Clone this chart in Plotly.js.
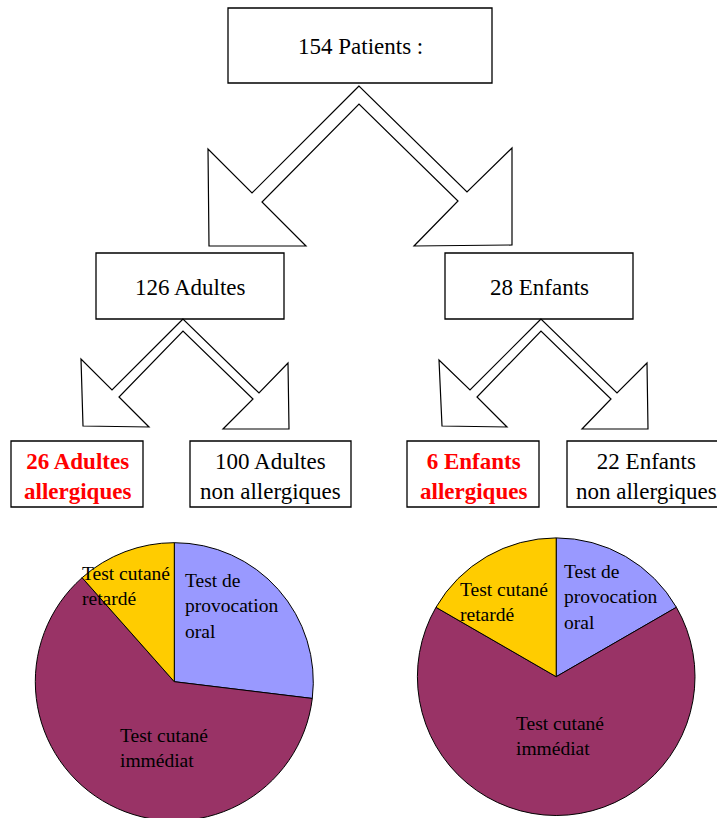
<!DOCTYPE html>
<html>
<head>
<meta charset="utf-8">
<script src="https://cdn.plot.ly/plotly-3.0.1.min.js"></script>
<style>
  html, body { margin: 0; padding: 0; background: #ffffff; overflow: hidden; }
  #chart { width: 717px; height: 830px; }
</style>
</head>
<body>
<div id="chart"></div>
<script>
// ---------- data ----------
const totalPatients = 154;
const groupNames = ["Adultes", "Enfants"];
const groupCounts = [126, 28];
const allergicCounts = [26, 6];
const nonAllergicCounts = [100, 22];

const testCategories = ["Test de provocation oral", "Test cutané immédiat", "Test cutané retardé"];
const testLabelLines = ["Test de<br>provocation<br>oral", "Test cutané<br>immédiat", "Test cutané<br>retardé"];
const adultTestValues = [7, 16, 3];
const childTestValues = [1, 4, 1];
const sliceColors = ["#9999FF", "#993366", "#FFCC00"];

// ---------- geometry (pixels) ----------
const W = 717, H = 830;
const FONT = "Liberation Serif";

function dom(cx, cy, r) {
  return { x: [(cx - r) / W, (cx + r) / W], y: [(H - cy - r) / H, (H - cy + r) / H] };
}
function poly(pts) {
  return "M " + pts.map(p => p[0] + "," + p[1]).join(" L ") + " Z";
}

const shapes = [];
const annotations = [];

function box(x0, y0, x1, y1) {
  shapes.push({ type: "rect", xref: "x", yref: "y", x0: x0, y0: y0, x1: x1, y1: y1,
    line: { color: "#000000", width: 1.3 }, fillcolor: "rgba(255,255,255,0)" });
}
function label(x, y, text, opts) {
  opts = opts || {};
  annotations.push({ xref: "x", yref: "y", x: x, y: y, text: text, showarrow: false,
    xanchor: opts.xanchor || "center", yanchor: "middle", align: opts.align || "center",
    font: { family: FONT, size: opts.size || 23, color: opts.color || "#000000" } });
}

// top box
box(228, 8, 492, 83);
label(360, 46, totalPatients + " Patients :");
// second level
box(96, 253, 284, 319);
label(190, 287, groupCounts[0] + " " + groupNames[0]);
box(445, 253, 633, 319);
label(539, 287, groupCounts[1] + " " + groupNames[1]);
// third level
box(11, 441, 143, 507);
label(77, 476, "<b>" + allergicCounts[0] + " " + groupNames[0] + "<br>allergiques</b>", { color: "#FF0000" });
box(190, 441, 351, 507);
label(270.5, 476, nonAllergicCounts[0] + " " + groupNames[0] + "<br>non allergiques");
box(407, 441, 539, 507);
label(473, 476, "<b>" + allergicCounts[1] + " " + groupNames[1] + "<br>allergiques</b>", { color: "#FF0000" });
box(567, 441, 725, 507);
label(646, 476, nonAllergicCounts[1] + " " + groupNames[1] + "<br>non allergiques");

// split arrows
const bigArrow = [[359, 86], [252, 193], [208, 149], [209, 246], [306, 246], [262, 202], [359, 104],
  [458, 201], [414, 246], [512, 245], [512, 148], [467, 192]];
const smallArrowL = [[183, 319], [112, 390], [81, 359], [83, 426], [149, 427], [119, 397], [183, 331],
  [253, 399], [223, 429], [289, 429], [288, 363], [259, 393]];
const smallArrowR = [[541, 319], [470, 390], [439, 360], [442, 426], [507, 427], [477, 397], [541, 331],
  [611, 399], [582, 429], [648, 429], [647, 363], [617, 393]];
[bigArrow, smallArrowL, smallArrowR].forEach(a => shapes.push({
  type: "path", xref: "x", yref: "y", path: poly(a),
  line: { color: "#000000", width: 1.2 }, fillcolor: "#ffffff"
}));

// pie labels
const adultLabelPos = [[183, 606], [118, 748], [80, 586]];
const childLabelPos = [[562, 597], [514, 736], [458, 602]];
adultLabelPos.forEach((p, i) => label(p[0], p[1], testLabelLines[i], { xanchor: "left", align: "left", size: 19.5 }));
childLabelPos.forEach((p, i) => label(p[0], p[1], testLabelLines[i], { xanchor: "left", align: "left", size: 19.5 }));

const pieCommon = {
  type: "pie", labels: testCategories, sort: false, direction: "clockwise", rotation: 0,
  textinfo: "none", hoverinfo: "label+value", showlegend: false,
  marker: { colors: sliceColors, line: { color: "#000000", width: 1 } }
};

const traces = [
  Object.assign({}, pieCommon, { values: adultTestValues, domain: dom(174.3, 681.7, 139), name: groupNames[0] }),
  Object.assign({}, pieCommon, { values: childTestValues, domain: dom(556.2, 676.7, 138.8), name: groupNames[1] })
];

const layout = {
  width: W, height: H,
  margin: { l: 0, r: 0, t: 0, b: 0 },
  paper_bgcolor: "#ffffff", plot_bgcolor: "rgba(0,0,0,0)",
  font: { family: FONT },
  xaxis: { range: [0, W], visible: false, fixedrange: true },
  yaxis: { range: [H, 0], visible: false, fixedrange: true },
  shapes: shapes,
  annotations: annotations,
  showlegend: false
};

Plotly.newPlot("chart", traces, layout, { displayModeBar: false, staticPlot: true });
</script>
</body>
</html>
